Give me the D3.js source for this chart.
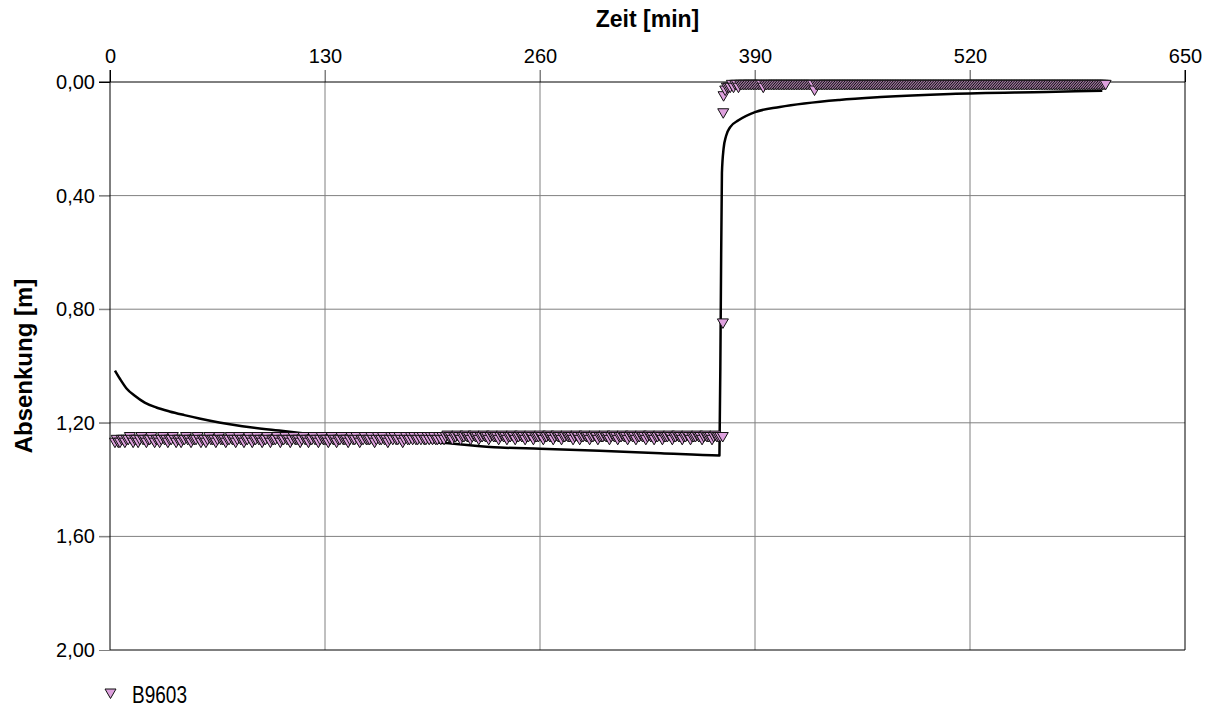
<!DOCTYPE html>
<html>
<head>
<meta charset="utf-8">
<script src="https://cdn.jsdelivr.net/npm/d3@7"></script>
<style>
  body { margin: 0; background: #fff; }
  svg { display: block; }
</style>
</head>
<body>
<div id="chart"></div>
<script>
// tick labels
const xTicks = [0, 130, 260, 390, 520, 650];
const yTicks = [0, 0.4, 0.8, 1.2, 1.6, 2.0];

// B9603 measurements, logger every minute during pumping (from t = 3 min)
const pumpStart = 3, pumpStep = 1;
const pumpValues = [
  1.27,1.26,1.27,1.27,1.26,1.26,1.27,1.26,1.26,1.25,1.26,1.27,1.26,1.26,1.27,1.26,1.25,1.26,1.26,1.27,
  1.26,1.26,1.25,1.26,1.27,1.26,1.26,1.27,1.26,1.25,1.26,1.26,1.27,1.26,1.26,1.25,1.26,1.27,1.26,1.26,
  1.27,1.26,1.26,1.25,1.26,1.26,1.27,1.26,1.26,1.26,1.25,1.26,1.27,1.26,1.26,1.27,1.26,1.25,1.26,1.26,
  1.26,1.27,1.26,1.25,1.26,1.26,1.26,1.27,1.26,1.26,1.25,1.26,1.26,1.27,1.26,1.25,1.26,1.26,1.27,1.26,
  1.26,1.25,1.26,1.27,1.26,1.26,1.25,1.26,1.26,1.27,1.26,1.26,1.25,1.26,1.27,1.26,1.26,1.26,1.25,1.26,
  1.27,1.26,1.26,1.25,1.26,1.26,1.27,1.26,1.25,1.26,1.26,1.26,1.27,1.26,1.25,1.26,1.26,1.27,1.26,1.26,
  1.25,1.26,1.26,1.27,1.26,1.25,1.26,1.26,1.26,1.27,1.26,1.25,1.26,1.26,1.27,1.26,1.26,1.25,1.26,1.26,
  1.26,1.27,1.26,1.25,1.26,1.26,1.25,1.26,1.27,1.26,1.26,1.25,1.26,1.26,1.26,1.25,1.26,1.27,1.26,1.25,
  1.26,1.26,1.25,1.26,1.26,1.27,1.26,1.25,1.26,1.25,1.26,1.26,1.25,1.26,1.27,1.26,1.25,1.26,1.26,1.25,
  1.26,1.25,1.26,1.26,1.25,1.26,1.25,1.26,1.26,1.25,1.26,1.25,1.26,1.25,1.26,1.26,1.25,1.26,1.25,1.26,
  1.25,1.245,1.25,1.25,1.26,1.25,1.25,1.245,1.25,1.26,1.25,1.25,1.245,1.25,1.25,1.26,1.25,1.245,1.25,1.25,
  1.26,1.25,1.25,1.245,1.25,1.25,1.26,1.25,1.245,1.25,1.25,1.25,1.26,1.25,1.245,1.25,1.25,1.26,1.25,1.25,
  1.245,1.25,1.26,1.25,1.25,1.245,1.25,1.25,1.26,1.25,1.25,1.245,1.25,1.26,1.25,1.25,1.25,1.245,1.25,1.26,
  1.25,1.25,1.245,1.25,1.25,1.26,1.25,1.245,1.25,1.25,1.26,1.25,1.25,1.245,1.25,1.25,1.25,1.26,1.25,1.245,
  1.25,1.26,1.25,1.25,1.245,1.25,1.25,1.26,1.25,1.25,1.245,1.25,1.26,1.25,1.25,1.25,1.245,1.25,1.25,1.26,
  1.25,1.245,1.25,1.25,1.26,1.25,1.25,1.245,1.25,1.25,1.26,1.25,1.245,1.25,1.25,1.26,1.25,1.25,1.245,1.25,
  1.25,1.26,1.25,1.245,1.25,1.25,1.26,1.25,1.25,1.245,1.25,1.26,1.25,1.25,1.25,1.245,1.25,1.26,1.25,1.25,
  1.245,1.25,1.25,1.26,1.25,1.25,1.245,1.25,1.26,1.25,1.25,1.25,1.245,1.25,1.25,1.26,1.25,1.245,1.25,1.25,
  1.25,1.26,1.25,1.245,1.25,1.25,1.25
];

// readings right at the pump stop
const stopTimes  = [370.5, 370.6, 370.8, 371.0];
const stopValues = [1.25, 0.85, 0.11, 0.05];

// recovery phase, every minute from t = 372 min
const recStart = 372, recStep = 1;
const recValues = [
  0.03,0.02,0.02,0.02,0.01,0.02,0.01,0.01,0.02,0.01,0.01,0.01,0.01,0.01,0.01,0.01,0.01,0.01,0.01,0.01,
  0.01,0.01,0.01,0.02,0.01,0.01,0.01,0.01,0.01,0.01,0.01,0.01,0.01,0.01,0.01,0.01,0.01,0.01,0.01,0.01,
  0.01,0.01,0.01,0.01,0.01,0.01,0.01,0.01,0.01,0.01,0.01,0.01,0.01,0.01,0.03,0.01,0.01,0.01,0.01,0.01,
  0.01,0.01,0.01,0.01,0.01,0.01,0.01,0.01,0.01,0.01,0.01,0.01,0.01,0.01,0.01,0.01,0.01,0.01,0.01,0.01,
  0.01,0.01,0.01,0.01,0.01,0.01,0.01,0.01,0.01,0.01,0.01,0.01,0.01,0.01,0.01,0.01,0.01,0.01,0.01,0.01,
  0.01,0.01,0.01,0.01,0.01,0.01,0.01,0.01,0.01,0.01,0.01,0.01,0.01,0.01,0.01,0.01,0.01,0.01,0.01,0.01,
  0.01,0.01,0.01,0.01,0.01,0.01,0.01,0.01,0.01,0.01,0.01,0.01,0.01,0.01,0.01,0.01,0.01,0.01,0.01,0.01,
  0.01,0.01,0.01,0.01,0.01,0.01,0.01,0.01,0.01,0.01,0.01,0.01,0.01,0.01,0.01,0.01,0.01,0.01,0.01,0.01,
  0.01,0.01,0.01,0.01,0.01,0.01,0.01,0.01,0.01,0.01,0.01,0.01,0.01,0.01,0.01,0.01,0.01,0.01,0.01,0.01,
  0.01,0.01,0.01,0.01,0.01,0.01,0.01,0.01,0.01,0.01,0.01,0.01,0.01,0.01,0.01,0.01,0.01,0.01,0.01,0.01,
  0.01,0.01,0.01,0.01,0.01,0.01,0.01,0.01,0.01,0.01,0.01,0.01,0.01,0.01,0.01,0.01,0.01,0.01,0.01,0.01,
  0.01,0.01,0.01,0.01,0.01,0.01,0.01,0.01,0.01,0.01,0.01
];

// fitted model curve
const modelT = [3, 6, 10, 15, 21, 28, 36, 45, 54, 66, 80, 100, 115, 140, 175, 200, 236, 260, 296, 333, 368.5,
                369.3, 370, 371, 372.5, 375, 380, 390, 405, 441, 466, 508, 566, 600];
const modelS = [1.016, 1.045, 1.079, 1.105, 1.129, 1.146, 1.16, 1.173, 1.185, 1.199, 1.212, 1.226, 1.236, 1.25, 1.262, 1.27, 1.287, 1.291, 1.298, 1.307, 1.315,
                0.80, 0.32, 0.235, 0.19, 0.159, 0.135, 0.106, 0.088, 0.063, 0.053, 0.042, 0.035, 0.031];

// build point list
const points = [];
pumpValues.forEach((v, i) => points.push({t: pumpStart + i * pumpStep, s: v}));
stopValues.forEach((v, i) => points.push({t: stopTimes[i], s: v}));
recValues.forEach((v, i) => points.push({t: recStart + i * recStep, s: v}));
const model = modelT.map((t, i) => ({t: t, s: modelS[i]}));

const width = 1211, height = 708;
const margin = {top: 82, right: 26, bottom: 58, left: 110};
const font = "'Liberation Sans', Arial, sans-serif";

const svg = d3.select("#chart").append("svg")
  .attr("width", width)
  .attr("height", height);

const x = d3.scaleLinear().domain([0, 650]).range([margin.left, width - margin.right]);
const y = d3.scaleLinear().domain([0, 2]).range([margin.top, height - margin.bottom]);

const de = d3.formatLocale({decimal: ",", thousands: ".", grouping: [3], currency: ["", " €"]});
const fmt = de.format(".2f");

// grid
const grid = svg.append("g");
grid.selectAll(".vg").data(xTicks.slice(1, -1)).join("line")
  .attr("x1", d => x(d)).attr("x2", d => x(d))
  .attr("y1", margin.top - 12).attr("y2", y(2))
  .attr("stroke", "#808080").attr("stroke-width", 1);
grid.selectAll(".hg").data(yTicks.slice(1, -1)).join("line")
  .attr("x1", margin.left - 11).attr("x2", x(650))
  .attr("y1", d => y(d)).attr("y2", d => y(d))
  .attr("stroke", "#808080").attr("stroke-width", 1);

// axes (labels only, lines are drawn by hand)
const xAxis = svg.append("g")
  .attr("transform", `translate(0,${margin.top})`)
  .call(d3.axisTop(x).tickValues(xTicks).tickSize(12).tickPadding(7));
const yAxis = svg.append("g")
  .attr("transform", `translate(${margin.left},0)`)
  .call(d3.axisLeft(y).tickValues(yTicks).tickSize(11).tickPadding(4).tickFormat(fmt));
[xAxis, yAxis].forEach(a => {
  a.select(".domain").remove();
  a.selectAll(".tick line").attr("stroke", "#808080");
  a.selectAll("text").attr("font-family", font).attr("font-size", 20).attr("fill", "#000");
});
xAxis.selectAll(".tick line").filter(d => d === 0 || d === 650).attr("stroke", "#000");
yAxis.selectAll(".tick line").filter(d => d === 0).attr("stroke", "#000");

// frame
svg.append("line").attr("x1", margin.left - 11).attr("x2", x(650)).attr("y1", y(0)).attr("y2", y(0)).attr("stroke", "#000");
svg.append("line").attr("x1", x(0)).attr("x2", x(650)).attr("y1", y(2)).attr("y2", y(2)).attr("stroke", "#000");
svg.append("line").attr("x1", x(0)).attr("x2", x(0)).attr("y1", margin.top - 12).attr("y2", y(2)).attr("stroke", "#000");
svg.append("line").attr("x1", x(650)).attr("x2", x(650)).attr("y1", margin.top - 12).attr("y2", y(2)).attr("stroke", "#000");

// model line
svg.append("path")
  .datum(model)
  .attr("fill", "none")
  .attr("stroke", "#000")
  .attr("stroke-width", 2.5)
  .attr("stroke-linejoin", "round")
  .attr("d", d3.line().curve(d3.curveMonotoneX).x(d => x(d.t)).y(d => y(d.s)));

// markers: downward triangles
const tri = "M-5.5,-4.5L5.5,-4.5L0,5Z";
svg.append("g").selectAll("path")
  .data(points)
  .join("path")
  .attr("d", tri)
  .attr("transform", d => `translate(${x(d.t)},${y(d.s)})`)
  .attr("fill", "#dda0dd")
  .attr("stroke", "#111")
  .attr("stroke-width", 1);

// titles
svg.append("text")
  .attr("x", (x(0) + x(650)) / 2)
  .attr("y", 27)
  .attr("text-anchor", "middle")
  .attr("font-family", font)
  .attr("font-weight", "bold")
  .attr("font-size", 23)
  .text("Zeit [min]");

svg.append("text")
  .attr("transform", `translate(32,${(y(0) + y(2)) / 2}) rotate(-90)`)
  .attr("text-anchor", "middle")
  .attr("font-family", font)
  .attr("font-weight", "bold")
  .attr("font-size", 24)
  .text("Absenkung [m]");

// legend
svg.append("path")
  .attr("d", tri)
  .attr("transform", "translate(110.5,693.5)")
  .attr("fill", "#dda0dd")
  .attr("stroke", "#111")
  .attr("stroke-width", 1);
svg.append("text")
  .attr("x", 132)
  .attr("y", 703)
  .attr("font-family", "'Liberation Sans Narrow', 'Arial Narrow', " + font)
  .attr("font-size", 23)
  .attr("textLength", 55)
  .attr("lengthAdjust", "spacingAndGlyphs")
  .text("B9603");
</script>
</body>
</html>
